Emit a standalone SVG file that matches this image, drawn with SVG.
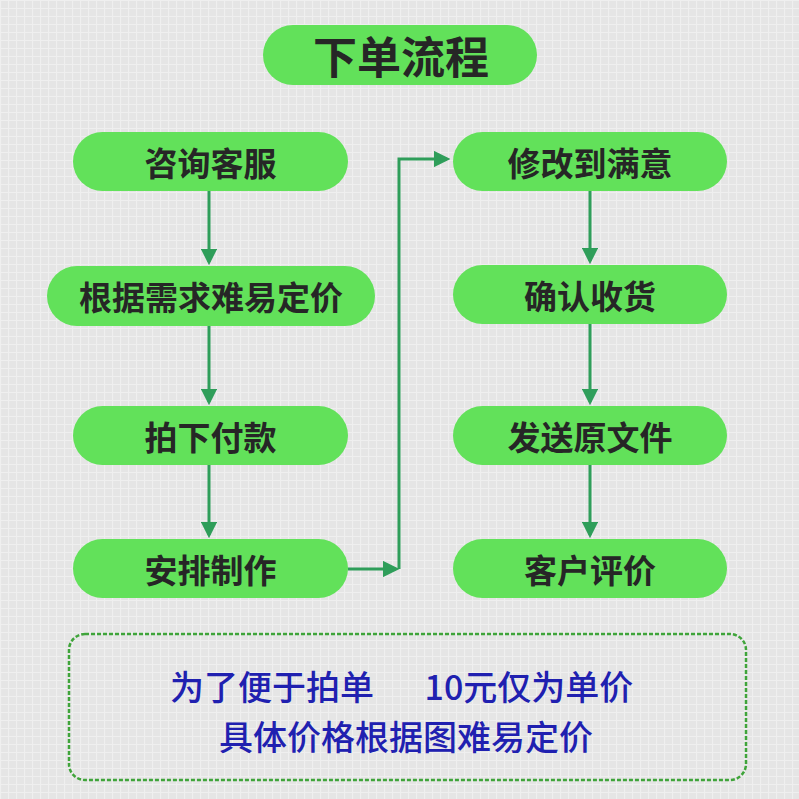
<svg xmlns="http://www.w3.org/2000/svg" width="799" height="799" viewBox="0 0 799 799">
<defs>
<pattern id="grid" width="8" height="8" patternUnits="userSpaceOnUse">
<path d="M0 0.5H8M0.5 0V8" stroke="#ffffff" stroke-width="1.2" fill="none"/>
</pattern>
<marker id="arr" viewBox="0 0 10 10" refX="8" refY="5" markerWidth="5.5" markerHeight="5.5" markerUnits="strokeWidth" orient="auto">
<path d="M0 0L10 5L0 10Z" fill="#2f9e5a"/>
</marker>
</defs>
<style>
.node rect{fill:#62e15a;}
.node text{font-family:"Noto Sans CJK SC","Noto Sans",sans-serif;font-weight:bold;font-size:33px;fill:#262626;text-anchor:middle;dominant-baseline:central;}
.conn path{fill:none;stroke:#2f9e5a;stroke-width:3;}
.note text{font-family:"Noto Sans CJK SC","Noto Sans",sans-serif;font-weight:500;font-size:34px;fill:#2020b0;text-anchor:middle;dominant-baseline:central;}
</style>
<rect width="799" height="799" fill="#e5e5e5"/>
<rect width="799" height="799" fill="url(#grid)" opacity="0.4"/>

<g id="title" class="node">
<rect x="263" y="25" width="274" height="60" rx="30"/>
<text x="401" y="55" style="font-size:44px">下单流程</text>
</g>

<g id="n1" class="node"><rect x="73" y="132" width="275" height="59" rx="29.5"/><text x="210.5" y="161.5">咨询客服</text></g>
<g id="n2" class="node"><rect x="47" y="266" width="328" height="60" rx="30"/><text x="211" y="296">根据需求难易定价</text></g>
<g id="n3" class="node"><rect x="73" y="406" width="275" height="59" rx="29.5"/><text x="210.5" y="435.5">拍下付款</text></g>
<g id="n4" class="node"><rect x="73" y="539" width="275" height="59" rx="29.5"/><text x="210.5" y="568.5">安排制作</text></g>

<g id="n5" class="node"><rect x="453" y="132" width="274" height="59" rx="29.5"/><text x="590" y="161.5">修改到满意</text></g>
<g id="n6" class="node"><rect x="453" y="265" width="274" height="59" rx="29.5"/><text x="590" y="294.5">确认收货</text></g>
<g id="n7" class="node"><rect x="453" y="406" width="274" height="59" rx="29.5"/><text x="590" y="435.5">发送原文件</text></g>
<g id="n8" class="node"><rect x="453" y="539" width="274" height="59" rx="29.5"/><text x="590" y="568.5">客户评价</text></g>

<g id="connectors" class="conn">
<path d="M209 191V262" marker-end="url(#arr)"/>
<path d="M209 326V402" marker-end="url(#arr)"/>
<path d="M209 465V535" marker-end="url(#arr)"/>
<path d="M348 569H396" marker-end="url(#arr)"/>
<path d="M399 569V159H447" marker-end="url(#arr)"/>
<path d="M590 191V261" marker-end="url(#arr)"/>
<path d="M590 324V402" marker-end="url(#arr)"/>
<path d="M590 465V535" marker-end="url(#arr)"/>
</g>

<g id="note" class="note">
<rect x="69" y="634" width="677" height="146" rx="16" fill="none" stroke="#3fa43a" stroke-width="2.5" stroke-dasharray="4 2"/>
<text x="272" y="685">为了便于拍单</text>
<text x="529" y="685">10元仅为单价</text>
<text x="406" y="735">具体价格根据图难易定价</text>
</g>
</svg>
